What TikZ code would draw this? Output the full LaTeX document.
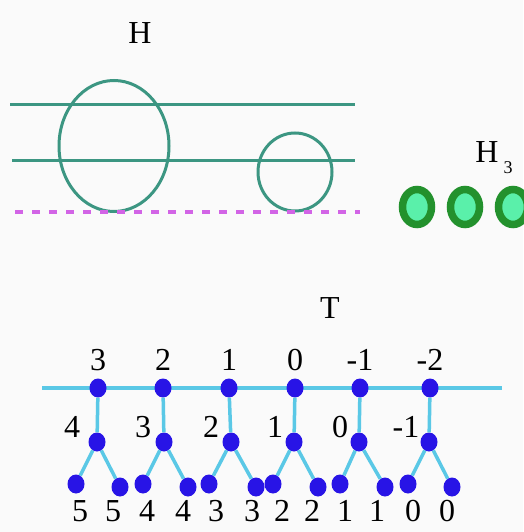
\documentclass[tikz,border=0pt]{standalone}
\usepackage{fontspec}
\setmainfont{Liberation Serif}
\usetikzlibrary{shapes.geometric}
\definecolor{bg}{RGB}{250,250,250}
\definecolor{teal1}{RGB}{60,150,130}
\definecolor{dashc}{RGB}{210,100,230}
\definecolor{dkgreen}{RGB}{35,145,45}
\definecolor{ltgreen}{RGB}{90,240,170}
\definecolor{nodeblue}{RGB}{40,20,230}
\definecolor{edgecyan}{RGB}{90,200,230}
\tikzset{
  lab/.style={font=\fontsize{32}{36}\selectfont, inner sep=0pt},
  dot/.style={ellipse, fill=nodeblue, minimum width=17pt, minimum height=19pt, inner sep=0pt},
  ring/.style={ellipse, draw=teal1, line width=3pt, inner sep=0pt},
  bead/.style={ellipse, draw=dkgreen, fill=ltgreen, line width=7.5pt, minimum width=29pt, minimum height=35pt, inner sep=0pt},
  tline/.style={draw=teal1, line width=3pt},
  eline/.style={draw=edgecyan, line width=3.5pt},
}
\begin{document}
\begin{tikzpicture}[x=1pt,y=-1pt]
\useasboundingbox[fill=bg] (0,0) rectangle (523,532);
% top part
\node[lab] (H) at (140,33) {H};
\coordinate (l1a) at (10,105); \coordinate (l1b) at (355,105);
\coordinate (l2a) at (12,160); \coordinate (l2b) at (355,160);
\draw[tline] (l1a) -- (l1b);
\draw[tline] (l2a) -- (l2b);
\node[ring, minimum width=110pt, minimum height=131pt] (big) at (114,146) {};
\node[ring, minimum width=74pt, minimum height=78pt] (small) at (295,172) {};
\coordinate (da) at (15,212); \coordinate (db) at (360,212);
\draw[dashc, line width=4pt, dash pattern=on 8pt off 9pt] (da) -- (db);
\node[lab] (H3) at (487,152) {H};
\node[font=\fontsize{18}{20}\selectfont, inner sep=0pt] (H3s) at (508,168) {3};
\node[bead] (g1) at (417,207) {};
\node[bead] (g2) at (465,207) {};
\node[bead] (g3) at (513,207) {};
% bottom part
\node[lab] (T) at (330,308) {T};
\coordinate (L) at (42,388); \coordinate (R) at (502,388);
\draw[eline] (L) -- (R);
\foreach \i/\x/\mx/\bl/\br/\blab/\mlab/\lx/\mlx in {
  1/98/97/76/120/3/4/98/72,
  2/163/164/143/188/2/3/163/143,
  3/229/231/209/256/1/2/229/211,
  4/295/294/273/318/0/1/295/275,
  5/360/359/340/385/-1/0/360/340,
  6/430/429/408/452/-2/-1/430/406}{
  \node[dot] (t\i) at (\x,388) {};
  \node[dot] (m\i) at (\mx,442) {};
  \node[dot] (bl\i) at (\bl,484) {};
  \node[dot] (br\i) at (\br,487) {};
  \draw[eline] (t\i) -- (m\i);
  \draw[eline] (m\i) -- (bl\i);
  \draw[eline] (m\i) -- (br\i);
  \node[lab] (tl\i) at (\lx,360) {\blab};
  \node[lab] (ml\i) at (\mlx,427) {\mlab};
}
\foreach \i/\x/\v in {1/80/5,2/113/5,3/147/4,4/183/4,5/216/3,6/252/3,7/282/2,8/312/2,9/345/1,10/377/1,11/413/0,12/447/0}{
  \node[lab] (bb\i) at (\x,511) {\v};
}
\end{tikzpicture}
\end{document}
